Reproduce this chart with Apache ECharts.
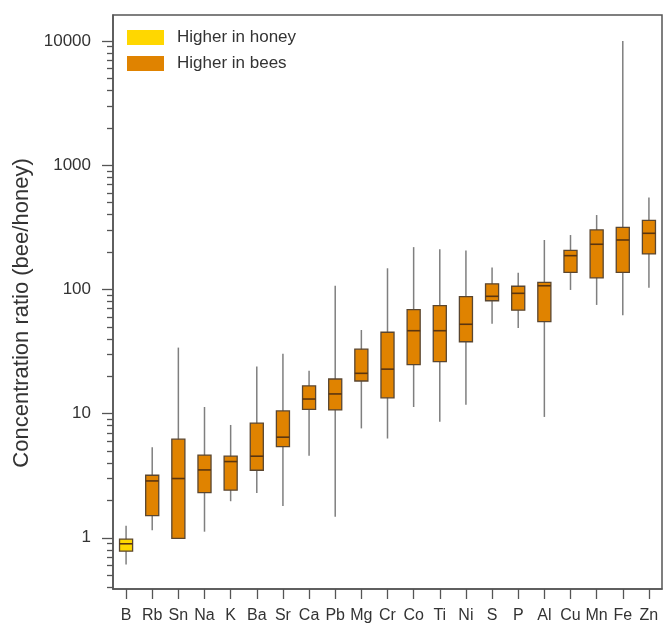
<!DOCTYPE html>
<html>
<head>
<meta charset="utf-8">
<script src="https://cdn.jsdelivr.net/npm/echarts@6/dist/echarts.min.js"></script>
<style>
  html, body { margin: 0; padding: 0; background: #fff; }
  #chart { width: 663px; height: 628px; }
</style>
</head>
<body>
<div id="chart"></div>
<script>
(function () {

  // elements, ordered as in the figure
  var elements = ['B','Rb','Sn','Na','K','Ba','Sr','Ca','Pb','Mg','Cr','Co','Ti','Ni','S','P','Al','Cu','Mn','Fe','Zn'];

  // bee/honey ratio per element: whisker low, Q1, median, Q3, whisker high
  var lowVals    = [0.61, 1.15, 0.99, 1.12, 1.97, 2.29, 1.80, 4.57, 1.48, 7.6, 6.3, 11.3, 8.6, 11.8, 53, 49, 9.4, 99, 75, 62, 103];
  var q1Vals     = [0.78, 1.51, 0.99, 2.31, 2.42, 3.50, 5.43, 10.8, 10.7, 18.3, 13.4, 24.8, 26.2, 37.9, 81, 68, 55, 137, 124, 137, 193];
  var medianVals = [0.895, 2.87, 3.0, 3.52, 4.11, 4.54, 6.46, 13.1, 14.4, 21.1, 22.8, 46.5, 46.5, 52.4, 88, 93, 107, 187, 231, 250, 283];
  var q3Vals     = [0.976, 3.19, 6.22, 4.63, 4.54, 8.37, 10.5, 16.7, 19.0, 33.0, 45.2, 68.7, 74.0, 87.4, 111, 106, 114, 206, 301, 316, 360];
  var highVals   = [1.25, 5.37, 34.0, 11.3, 8.1, 23.9, 30.4, 22.1, 107, 47.1, 148, 219, 211, 206, 150, 136, 250, 274, 397, 10000, 550];

  // which elements are higher in honey (ratio < 1)
  var higherInHoney = ['B'];

  var majorTicks = [1, 10, 100, 1000, 10000];
  var minorTicks = [0.4, 0.5, 0.6, 0.7, 0.8, 0.9,
    2, 3, 4, 5, 6, 7, 8, 9,
    20, 30, 40, 50, 60, 70, 80, 90,
    200, 300, 400, 500, 600, 700, 800, 900,
    2000, 3000, 4000, 5000, 6000, 7000, 8000, 9000];

  var STYLE = {
    font: '"Liberation Sans", Arial, Helvetica, sans-serif',
    honey: '#FFD700',
    bees: '#E08300',
    boxBorder: '#5a4630',
    median: '#5a3510',
    whisker: '#7f7f7f',
    axis: '#555555',
    text: '#333333'
  };

  function _buildData(useHoney){
    var out = [];
    elements.forEach(function(el, i){
      var isHoney = higherInHoney.indexOf(el) >= 0;
      if(isHoney === useHoney){
        out.push([i, lowVals[i], q1Vals[i], medianVals[i], q3Vals[i], highVals[i]]);
      }
    });
    return out;
  }

  function _renderBox(fill){
    return function(params, api){
      var idx = api.value(0);
      var pLow = api.coord([idx, api.value(1)]);
      var pQ1 = api.coord([idx, api.value(2)]);
      var pMed = api.coord([idx, api.value(3)]);
      var pQ3 = api.coord([idx, api.value(4)]);
      var pHigh = api.coord([idx, api.value(5)]);
      var w = api.size([1, 0])[0] * 0.5;
      var x = pQ1[0];
      return {
        type: 'group',
        children: [{
          type: 'line',
          shape: { x1: x, y1: pHigh[1], x2: x, y2: pLow[1] },
          style: { stroke: STYLE.whisker, lineWidth: 1.5 }
        },{
          type: 'rect',
          shape: { x: x - w / 2, y: pQ3[1], width: w, height: pQ1[1] - pQ3[1] },
          style: { fill: fill, stroke: STYLE.boxBorder, lineWidth: 1.3 }
        },{
          type: 'line',
          shape: { x1: x - w / 2, y1: pMed[1], x2: x + w / 2, y2: pMed[1] },
          style: { stroke: STYLE.median, lineWidth: 1.6 }
        }]
      };
    };
  }

  function _paintChart(){
    var chart = echarts.init(document.getElementById('chart'), null, { renderer: 'canvas' });

    var logMin = 0.387, logMax = 16200;

    var opt = {
      animation: false,
      textStyle: { fontFamily: STYLE.font },
      grid: {
        left: 113, right: 1, top: 15, bottom: 39,
        show: true, borderColor: STYLE.axis, borderWidth: 1.5,
        containLabel: false,
        outerBoundsMode: 'none'
      },
      legend: {
        left: 127, top: 29,
        padding: 0,
        orient: 'vertical',
        itemWidth: 37, itemHeight: 15, itemGap: 9,
        icon: 'rect',
        textStyle: { fontSize: 17, color: STYLE.text, fontFamily: STYLE.font, padding: [0, 0, 0, 8] },
        data: ['Higher in honey', 'Higher in bees']
      },
      xAxis: {
        type: 'category',
        data: elements,
        boundaryGap: true,
        axisLine: { lineStyle: { color: STYLE.axis, width: 1.5 } },
        axisTick: { show: true, alignWithLabel: true, length: 10, lineStyle: { color: STYLE.axis, width: 1.3 } },
        axisLabel: { color: STYLE.text, fontSize: 16, margin: 19, interval: 0, fontFamily: STYLE.font },
        splitLine: { show: false }
      },
      yAxis: [{
        type: 'log',
        min: logMin, max: logMax,
        name: 'Concentration ratio (bee/honey)',
        nameLocation: 'middle',
        nameGap: 80,
        nameTextStyle: { fontSize: 22, color: STYLE.text, fontFamily: STYLE.font, padding: [0, 22, 0, 0] },
        axisLine: { show: true, lineStyle: { color: STYLE.axis, width: 1.5 } },
        axisTick: { show: true, customValues: majorTicks, length: 11, lineStyle: { color: STYLE.axis, width: 1.3 } },
        axisLabel: {
          customValues: majorTicks, color: STYLE.text, fontSize: 17, margin: 22, fontFamily: STYLE.font,
          formatter: function(v){ return String(Math.round(v)); }
        },
        splitLine: { show: false }
      },{
        type: 'log',
        min: logMin, max: logMax,
        position: 'left',
        axisLine: { show: false },
        axisTick: { show: true, customValues: minorTicks, length: 6, lineStyle: { color: STYLE.axis, width: 1.3 } },
        axisLabel: { show: false },
        splitLine: { show: false }
      }],
      series: [{
        name: 'Higher in honey',
        type: 'custom',
        itemStyle: { color: STYLE.honey },
        renderItem: _renderBox(STYLE.honey),
        encode: { x: 0, y: [1, 2, 3, 4, 5] },
        data: _buildData(true)
      },{
        name: 'Higher in bees',
        type: 'custom',
        itemStyle: { color: STYLE.bees },
        renderItem: _renderBox(STYLE.bees),
        encode: { x: 0, y: [1, 2, 3, 4, 5] },
        data: _buildData(false)
      }]
    };
    chart.setOption(opt);
  }

  _paintChart();
})();
</script>
</body>
</html>
